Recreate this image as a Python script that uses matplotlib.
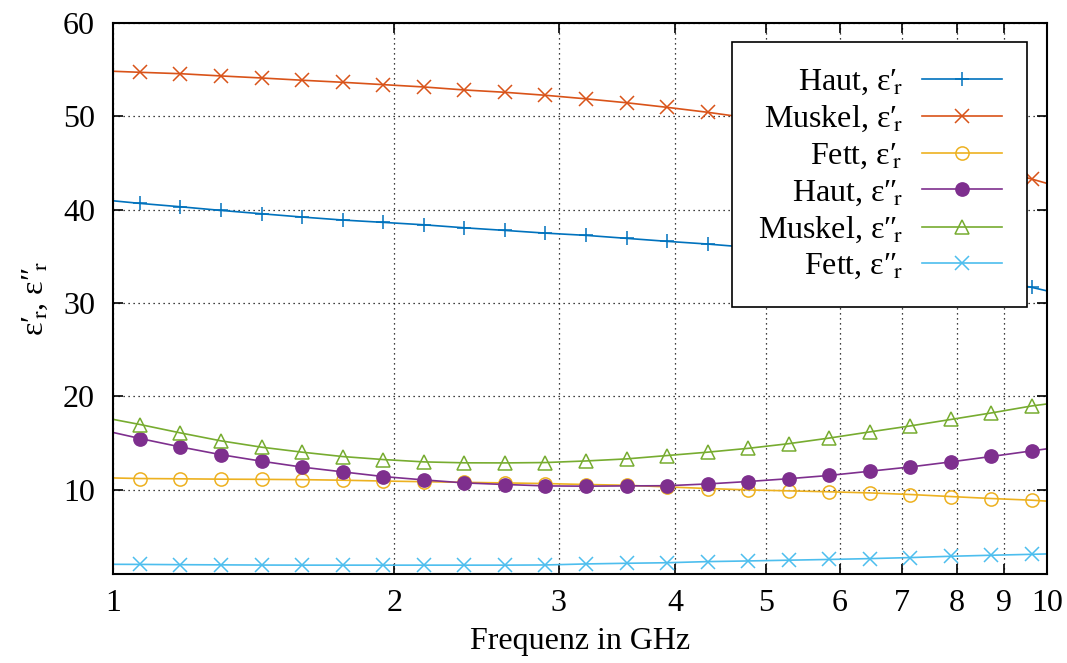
import matplotlib
matplotlib.use("Agg")
import matplotlib.pyplot as plt

plt.rcParams["font.family"] = ["Liberation Serif", "DejaVu Serif"]
plt.rcParams["mathtext.fontset"] = "stix"

# frequency in GHz: band edges plus the points where markers sit
freq = [1.0, 1.069, 1.181, 1.305, 1.443, 1.594, 1.762, 1.947, 2.152, 2.378,
        2.628, 2.904, 3.210, 3.547, 3.920, 4.332, 4.786, 5.290, 5.846,
        6.460, 7.139, 7.889, 8.718, 9.634, 10.0]

haut_re = [40.94, 40.66, 40.30, 39.91, 39.55, 39.20, 38.88, 38.63, 38.37, 38.05,
           37.77, 37.48, 37.24, 36.92, 36.60, 36.31, 35.96, 35.56, 35.11,
           34.56, 33.96, 33.26, 32.51, 31.67, 31.30]
muskel_re = [54.80, 54.69, 54.54, 54.30, 54.08, 53.84, 53.62, 53.37, 53.12, 52.80,
             52.55, 52.23, 51.85, 51.43, 50.94, 50.41, 49.81, 49.11, 48.31,
             47.46, 46.51, 45.51, 44.41, 43.26, 42.80]
fett_re = [11.28, 11.22, 11.19, 11.15, 11.13, 11.10, 11.04, 10.95, 10.88, 10.81,
           10.75, 10.68, 10.58, 10.50, 10.32, 10.15, 10.00, 9.90, 9.80,
           9.68, 9.51, 9.29, 9.08, 8.90, 8.80]
haut_im = [16.15, 15.50, 14.60, 13.77, 13.07, 12.44, 11.93, 11.43, 11.07, 10.75,
           10.58, 10.43, 10.40, 10.43, 10.45, 10.64, 10.90, 11.20, 11.55,
           12.00, 12.46, 13.00, 13.58, 14.18, 14.40]
muskel_im = [17.55, 17.00, 16.10, 15.25, 14.57, 14.04, 13.57, 13.25, 13.00, 12.90,
             12.89, 12.93, 13.10, 13.32, 13.68, 14.04, 14.45, 14.95, 15.55,
             16.21, 16.85, 17.54, 18.24, 18.99, 19.20]
fett_im = [2.04, 2.03, 2.00, 1.98, 1.96, 1.95, 1.95, 1.95, 1.95, 1.95,
           1.95, 1.97, 2.08, 2.15, 2.21, 2.33, 2.40, 2.48, 2.56,
           2.65, 2.76, 2.90, 3.01, 3.11, 3.15]

x_ticks = [1, 2, 3, 4, 5, 6, 7, 8, 9, 10]
y_ticks = [10, 20, 30, 40, 50, 60]

eps1 = "ε′$\\!_{\\mathrm{r}}$"
eps2 = "ε″$\\!_{\\mathrm{r}}$"

series = [
    ("Haut, " + eps1, haut_re, "#0072bd", "+", "#0072bd"),
    ("Muskel, " + eps1, muskel_re, "#d95319", "x", "#d95319"),
    ("Fett, " + eps1, fett_re, "#edb120", "o", "none"),
    ("Haut, " + eps2, haut_im, "#7e2f8e", "o", "#7e2f8e"),
    ("Muskel, " + eps2, muskel_im, "#77ac30", "^", "none"),
    ("Fett, " + eps2, fett_im, "#4dbeee", "x", "#4dbeee"),
]

fig = plt.figure(figsize=(10.67, 6.63), dpi=100)
ax = fig.add_axes([0.1059, 0.1342, 0.8754, 0.8316])

for label, vals, col, mk, fc in series:
    ax.plot(freq, vals, color=col, lw=1.2, marker=mk, ms=9.5,
            mfc=fc, mec=col, mew=1.1, markevery=range(1, len(freq) - 1),
            label=label)

ax.set_xscale("log")
ax.set_xlim(1, 10)
ax.set_ylim(1, 60)
ax.set_xticks(x_ticks, labels=[str(t) for t in x_ticks])
ax.minorticks_off()
ax.set_yticks(y_ticks)
ax.tick_params(direction="in", length=7, width=1.2, labelsize=23,
               top=True, right=True)
ax.tick_params(axis="y", pad=13)
ax.tick_params(axis="x", pad=11)
ax.grid(True, color="black", linestyle=(0, (1, 3)), lw=0.9)
for s in ax.spines.values():
    s.set_linewidth(1.5)

ax.set_xlabel("Frequenz in GHz", fontsize=23, labelpad=6)
ax.set_ylabel(eps1 + ", " + eps2, fontsize=23, labelpad=9)

leg = ax.legend(loc="upper right", bbox_to_anchor=(0.979, 0.965),
                borderaxespad=0, markerfirst=False, fontsize=23,
                handlelength=2.5, handletextpad=0.6, labelspacing=0.22,
                fancybox=False, framealpha=1, edgecolor="black",
                borderpad=0.8)
leg.get_frame().set_linewidth(1.2)

fig.savefig("out.png", dpi=100)
